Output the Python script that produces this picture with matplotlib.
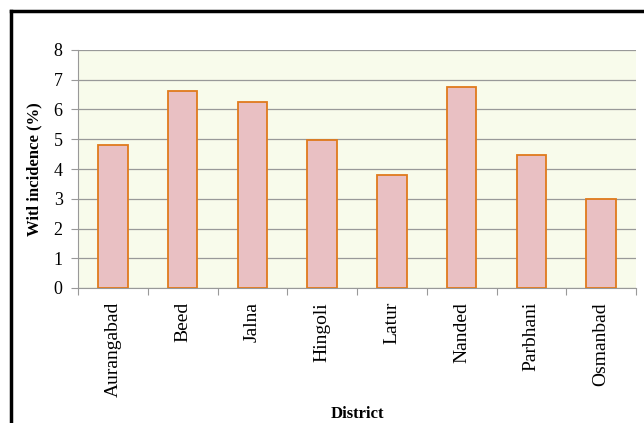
import matplotlib.pyplot as plt
from matplotlib.lines import Line2D

districts = ['Aurangabad', 'Beed', 'Jalna', 'Hingoli', 'Latur', 'Nanded', 'Parbhani', 'Osmanbad']
wilt_incidence = [4.8, 6.62, 6.25, 4.98, 3.8, 6.75, 4.48, 2.98]
y_ticks = [0, 1, 2, 3, 4, 5, 6, 7, 8]

plt.rcParams['font.family'] = ['Liberation Serif', 'DejaVu Serif']

fig = plt.figure(figsize=(6.44, 4.23), dpi=100)
ax = fig.add_axes([78 / 644, 1 - 288 / 423, (636 - 78) / 644, (288 - 50) / 423])

ax.set_facecolor('#f8fbeb')
x = range(len(districts))
ax.bar(x, wilt_incidence, width=0.42, color='#e9c0c3', edgecolor='#e07a1c', linewidth=1.3, zorder=3)

ax.set_xlim(-0.5, len(districts) - 0.5)
ax.set_ylim(0, 8)
ax.set_yticks(y_ticks)
ax.yaxis.grid(True, color='#999999', linewidth=0.9, zorder=0)
ax.set_xticks([i + 0.5 for i in range(-1, len(districts))])
ax.set_xticklabels([])
ax.set_xticks(list(x), minor=True)
ax.set_xticklabels(districts, minor=True, rotation=90, fontsize=14)
ax.tick_params(axis='x', which='minor', length=0, pad=10)
ax.tick_params(axis='x', which='major', length=5, color='#999999', direction='out')
ax.tick_params(axis='y', length=5, color='#999999', labelsize=13, pad=6)

for side in ['top', 'right']:
    ax.spines[side].set_visible(False)
ax.spines['left'].set_color('#999999')
ax.spines['bottom'].set_color('#999999')

ax.set_ylabel('Witl incidence (%)', fontsize=12, fontweight='bold', labelpad=8)
ax.set_xlabel('District', fontsize=12, fontweight='bold', labelpad=6)

# black frame around the chart (top and left visible)
fig.add_artist(Line2D([11 / 644, 1], [1 - 11 / 423, 1 - 11 / 423], transform=fig.transFigure, color='black', linewidth=2.5))
fig.add_artist(Line2D([11 / 644, 11 / 644], [0, 1 - 11 / 423], transform=fig.transFigure, color='black', linewidth=2.5))

fig.savefig('out.png', dpi=100)
